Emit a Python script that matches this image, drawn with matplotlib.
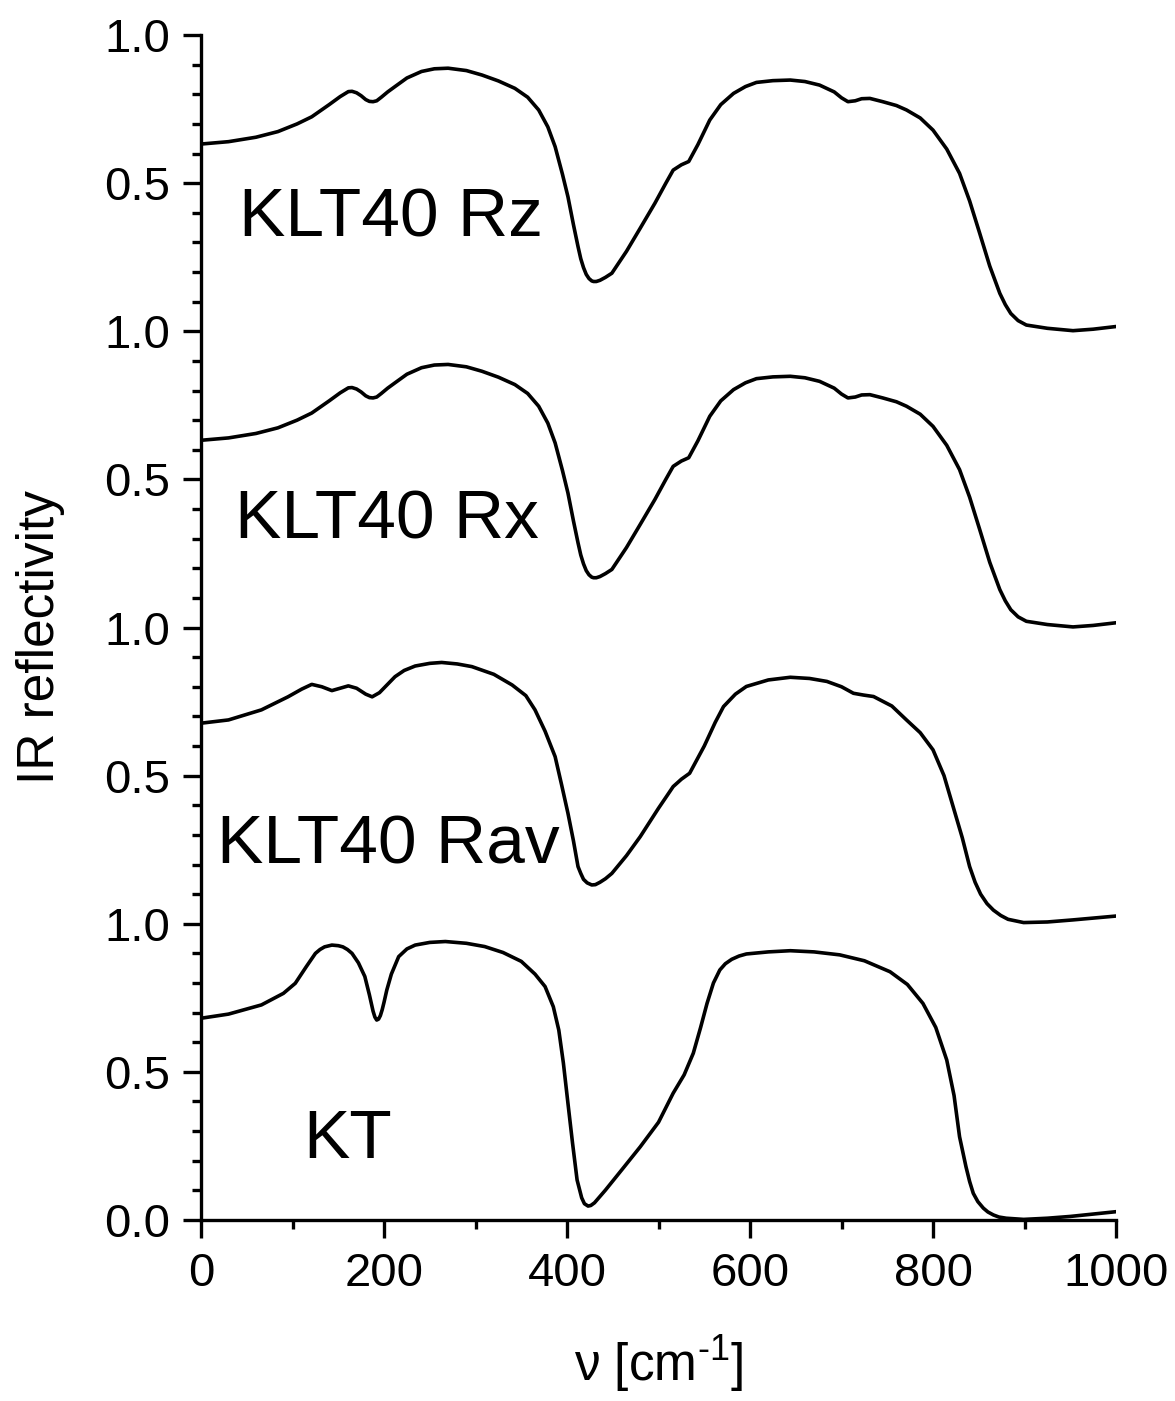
import numpy as np
import matplotlib
matplotlib.use("Agg")
import matplotlib.pyplot as plt
from matplotlib.ticker import FixedLocator, FixedFormatter, MultipleLocator

plt.rcParams['font.family'] = ['Liberation Sans', 'DejaVu Sans']
plt.rcParams['mathtext.fontset'] = 'custom'
plt.rcParams['mathtext.rm'] = 'Liberation Sans'

# --- data (wavenumber in cm^-1, reflectivity) ---
nu_z = [0, 30, 60, 84, 105, 121, 140, 152, 161, 165, 170, 175, 180, 184, 188, 192, 197, 204,
        212, 225, 241, 255, 270, 290, 307, 325, 343, 357, 369, 379, 387, 395, 401, 407, 412,
        415, 418, 421, 424, 427, 429, 432, 436, 442, 449, 465, 480, 496, 508, 516, 525, 533,
        543, 556, 568, 582, 595, 607, 625, 644, 660, 676, 692, 700, 707, 715, 722, 731, 745,
        760, 771, 786, 800, 815, 829, 840, 851, 862, 873, 879, 885, 893, 902, 925, 953, 975,
        1000]
r_z = [0.632, 0.640, 0.655, 0.674, 0.700, 0.724, 0.765, 0.792, 0.809, 0.810, 0.805, 0.795,
       0.782, 0.776, 0.775, 0.778, 0.790, 0.808, 0.826, 0.855, 0.877, 0.886, 0.888, 0.880,
       0.865, 0.845, 0.820, 0.790, 0.747, 0.690, 0.623, 0.530, 0.454, 0.360, 0.286, 0.245,
       0.215, 0.192, 0.178, 0.170, 0.168, 0.168, 0.172, 0.182, 0.196, 0.270, 0.348, 0.432,
       0.500, 0.544, 0.562, 0.573, 0.630, 0.713, 0.765, 0.803, 0.826, 0.840, 0.846, 0.848,
       0.843, 0.831, 0.808, 0.788, 0.775, 0.778, 0.785, 0.786, 0.775, 0.762, 0.747, 0.720,
       0.679, 0.615, 0.533, 0.440, 0.331, 0.220, 0.128, 0.090, 0.060, 0.036, 0.021, 0.010,
       0.002, 0.007, 0.016]

# Rx coincides with Rz within reading accuracy
nu_x = list(nu_z)
r_x = list(r_z)

nu_av = [0, 30, 66, 95, 110, 121, 132, 143, 152, 161, 170, 180, 187, 195, 212, 222, 234, 250,
         263, 280, 296, 320, 340, 355, 365, 376, 387, 394, 401, 407, 412, 415, 418, 422, 427,
         431, 436, 442, 449, 465, 480, 500, 516, 525, 534, 550, 562, 571, 584, 596, 620, 644,
         665, 684, 700, 713, 724, 735, 755, 771, 786, 800, 812, 822, 832, 840, 846, 852, 859,
         866, 874, 882, 899, 925, 953, 1000]
r_av = [0.677, 0.688, 0.722, 0.766, 0.792, 0.808, 0.800, 0.787, 0.795, 0.803, 0.795, 0.775,
        0.766, 0.780, 0.834, 0.855, 0.870, 0.879, 0.882, 0.877, 0.868, 0.842, 0.806, 0.770,
        0.722, 0.650, 0.564, 0.470, 0.373, 0.280, 0.193, 0.170, 0.150, 0.138, 0.131, 0.132,
        0.140, 0.152, 0.170, 0.230, 0.294, 0.390, 0.463, 0.488, 0.508, 0.600, 0.680, 0.733,
        0.775, 0.801, 0.823, 0.832, 0.828, 0.818, 0.800, 0.778, 0.772, 0.767, 0.735, 0.688,
        0.645, 0.587, 0.500, 0.395, 0.290, 0.193, 0.140, 0.100, 0.068, 0.046, 0.028, 0.015,
        0.004, 0.006, 0.013, 0.026]

nu_kt = [0, 30, 66, 90, 103, 115, 125, 130, 135, 143, 150, 155, 160, 165, 172, 179, 184, 188,
         190, 192, 194, 196, 198, 200, 203, 208, 216, 225, 234, 250, 267, 290, 310, 330, 350,
         365, 376, 385, 391, 396, 401, 406, 411, 416, 419, 423, 426, 430, 442, 460, 480, 500,
         516, 528, 538, 546, 553, 560, 567, 573, 580, 588, 596, 620, 644, 670, 698, 725, 753,
         772, 789, 803, 815, 823, 829, 836, 840, 844, 849, 855, 860, 866, 872, 880, 899, 925,
         950, 975, 1000]
r_kt = [0.681, 0.695, 0.726, 0.765, 0.799, 0.855, 0.900, 0.913, 0.922, 0.928, 0.926, 0.922,
        0.913, 0.900, 0.868, 0.822, 0.760, 0.705, 0.685, 0.675, 0.678, 0.690, 0.710, 0.735,
        0.776, 0.830, 0.889, 0.915, 0.928, 0.937, 0.940, 0.934, 0.923, 0.903, 0.873, 0.830,
        0.788, 0.720, 0.641, 0.530, 0.394, 0.260, 0.135, 0.075, 0.055, 0.047, 0.049, 0.058,
        0.101, 0.170, 0.247, 0.330, 0.428, 0.490, 0.563, 0.650, 0.731, 0.800, 0.844, 0.865,
        0.880, 0.891, 0.898, 0.905, 0.909, 0.905, 0.895, 0.875, 0.838, 0.795, 0.731, 0.650,
        0.540, 0.420, 0.281, 0.180, 0.130, 0.090, 0.062, 0.040, 0.027, 0.017, 0.010, 0.006,
        0.002, 0.006, 0.012, 0.020, 0.028]

names = ['KLT40 Rz', 'KLT40 Rx', 'KLT40 Rav', 'KT']
offsets = [3, 2, 1, 0]
ytick_vals = [0, 0.5, 1, 1.5, 2, 2.5, 3, 3.5, 4]
ytick_labels = ['0.0', '0.5', '1.0', '0.5', '1.0', '0.5', '1.0', '0.5', '1.0']

# --- plot ---
fig = plt.figure(figsize=(11.75, 14.01), dpi=100)
ax = fig.add_axes([0.1711, 0.1292, 0.7787, 0.8458])

series = [(nu_z, r_z), (nu_x, r_x), (nu_av, r_av), (nu_kt, r_kt)]
for (nu, r), off in zip(series, offsets):
    ax.plot(nu, np.array(r) + off, color='black', lw=2.6,
            solid_joinstyle='round', solid_capstyle='round')

# curve labels
label_pos = [(42, 3.32), (37, 2.30), (17, 1.205), (112, 0.21)]
for name, (lx, ly) in zip(names, label_pos):
    ax.text(lx, ly, name, fontsize=50, ha='left', va='baseline')

ax.set_xlim(0, 1000)
ax.set_ylim(0, 4)
ax.xaxis.set_major_locator(MultipleLocator(200))
ax.xaxis.set_minor_locator(MultipleLocator(100))
ax.yaxis.set_major_locator(FixedLocator(ytick_vals))
ax.yaxis.set_major_formatter(FixedFormatter(ytick_labels))
ax.yaxis.set_minor_locator(MultipleLocator(0.1))

for s in ['top', 'right']:
    ax.spines[s].set_visible(False)
for s in ['left', 'bottom']:
    ax.spines[s].set_linewidth(2.4)

ax.tick_params(which='major', direction='out', length=13, width=2.4, labelsize=34)
ax.tick_params(which='minor', direction='out', length=6.5, width=2.4)
ax.tick_params(axis='y', which='major', pad=9)
ax.tick_params(axis='x', which='major', pad=10)

ax.set_xlabel(r'ν [cm$^{\text{-1}}$]', fontsize=37)
ax.xaxis.set_label_coords(0.5, -0.096)
ax.set_ylabel('IR reflectivity', fontsize=37)
ax.yaxis.set_label_coords(-0.149, 0.492)

fig.savefig('out.png', dpi=100, facecolor='white')
